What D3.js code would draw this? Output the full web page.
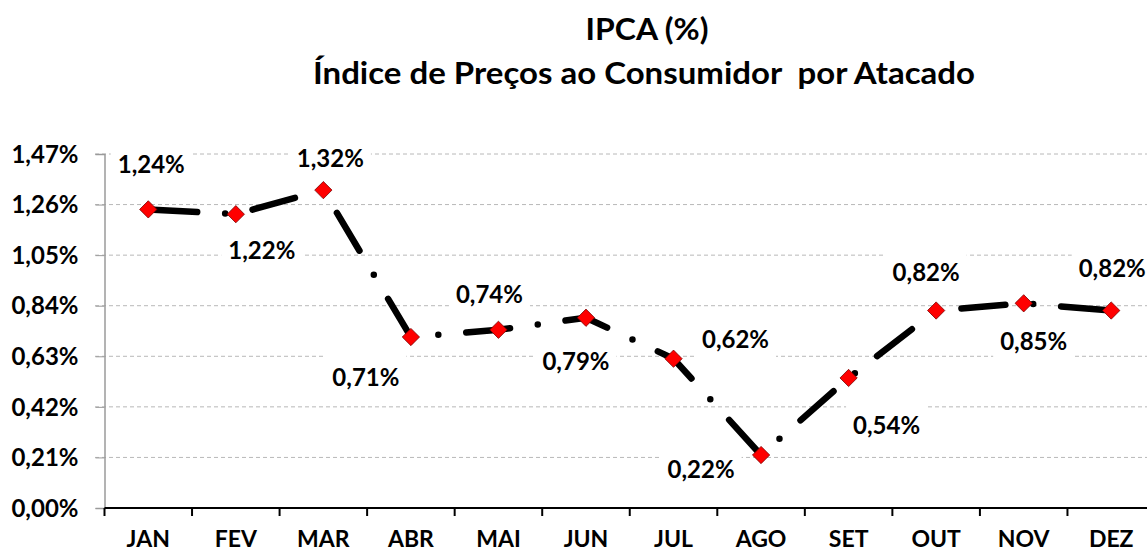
<!DOCTYPE html>
<html>
<head>
<meta charset="utf-8">
<script src="https://cdn.jsdelivr.net/npm/d3@7/dist/d3.min.js"></script>
<style>
  html, body { margin: 0; padding: 0; background: #fff; }
  svg { display: block; }
  text { font-family: Lato, "Open Sans", sans-serif; font-weight: bold; fill: #000; }
</style>
</head>
<body>
<svg id="chart" width="1147" height="551"></svg>
<script>
const months = ["JAN","FEV","MAR","ABR","MAI","JUN","JUL","AGO","SET","OUT","NOV","DEZ"];
const ipca = [1.24, 1.22, 1.32, 0.71, 0.74, 0.79, 0.62, 0.22, 0.54, 0.82, 0.85, 0.82];
const yTicks = [0, 0.21, 0.42, 0.63, 0.84, 1.05, 1.26, 1.47];
const titleLines = ["IPCA (%)", "Índice de Preços ao Consumidor  por Atacado"];

// label placement (layout, px offsets from point)
const labelOffsets = [
  [3,-46],[26,35],[7,-33],[-45,39],[-9,-36],[-10,43],
  [62,-20],[-60,13],[38,47],[-10,-39],[10,37],[1,-43]
];

const fmt = v => v.toFixed(2).replace(".", ",") + "%";

const svg = d3.select("#chart");
const plotLeft = 104.5, plotRight = 1155, plotTop = 154, plotBottom = 508;

const x = d3.scaleBand().domain(months).range([plotLeft, plotRight]).padding(0);
const y = d3.scaleLinear().domain([0, 1.47]).range([plotBottom, plotTop]);
const cx = m => x(m) + x.bandwidth() / 2;

// titles
svg.append("text").attr("x", 647).attr("y", 40).attr("text-anchor", "middle")
  .style("font-size", "31px").attr("textLength", 123).attr("lengthAdjust", "spacingAndGlyphs")
  .text(titleLines[0]);
svg.append("text").attr("x", 644).attr("y", 84).attr("text-anchor", "middle")
  .attr("xml:space", "preserve").style("white-space", "pre")
  .style("font-size", "31px").attr("textLength", 662).attr("lengthAdjust", "spacingAndGlyphs")
  .text(titleLines[1]);

// gridlines
svg.append("g").selectAll("line").data(yTicks.filter(d => d > 0)).join("line")
  .attr("x1", 95).attr("x2", 1147)
  .attr("y1", d => y(d)).attr("y2", d => y(d))
  .attr("stroke", "#b8b8b8").attr("stroke-width", 1).attr("stroke-dasharray", "4,3");

// y axis
const yAxis = d3.axisLeft(y).tickValues(yTicks).tickFormat(fmt).tickSize(9).tickPadding(17);
const gy = svg.append("g").attr("transform", `translate(${plotLeft},0)`).call(yAxis);
gy.select(".domain").attr("stroke", "#9a9a9a").attr("stroke-width", 1.5);
gy.selectAll(".tick line").attr("stroke", "#9a9a9a");
gy.selectAll(".tick text").style("font-size", "24px").style("font-family", "Lato, sans-serif")
  .style("font-weight", "bold").attr("fill", "#000").attr("dy", "0.34em");

// x axis
const gx = svg.append("g").attr("transform", `translate(0,${plotBottom})`)
  .call(d3.axisBottom(x).tickSize(0).tickPadding(0));
gx.select(".domain").remove();
gx.selectAll(".tick text").style("font-size", "23px").style("font-family", "Lato, sans-serif")
  .style("font-weight", "bold").attr("fill", "#000").attr("dy", null).attr("y", 39);
svg.append("line").attr("x1", plotLeft).attr("x2", 1147).attr("y1", plotBottom).attr("y2", plotBottom)
  .attr("stroke", "#000").attr("stroke-width", 2);
svg.append("g").selectAll("line").data(months).join("line")
  .attr("x1", d => x(d)).attr("x2", d => x(d))
  .attr("y1", plotBottom).attr("y2", plotBottom + 8)
  .attr("stroke", "#000").attr("stroke-width", 2);

// data labels with white boxes
const lblG = svg.append("g");
ipca.forEach((v, i) => {
  const px = cx(months[i]) + labelOffsets[i][0];
  const py = y(v) + labelOffsets[i][1];
  const g = lblG.append("g");
  const t = g.append("text").attr("x", px).attr("y", py).attr("text-anchor", "middle")
    .attr("dominant-baseline", "central").style("font-size", "24px").text(fmt(v));
  const bb = t.node().getBBox();
  g.insert("rect", "text").attr("x", bb.x - 7).attr("y", bb.y - 8)
    .attr("width", bb.width + 14).attr("height", bb.height + 14).attr("fill", "#fff");
});

// line
const line = d3.line().x((d, i) => cx(months[i])).y(d => y(d));
svg.append("path").datum(ipca).attr("d", line)
  .attr("fill", "none").attr("stroke", "#000").attr("stroke-width", 6.5)
  .attr("stroke-linecap", "round").attr("stroke-linejoin", "round")
  .attr("stroke-dasharray", "44,28,0,28").attr("stroke-dashoffset", -5);

// markers
svg.append("g").selectAll("path").data(ipca).join("path")
  .attr("d", d3.symbol().type(d3.symbolDiamond2).size(190))
  .attr("transform", (d, i) => `translate(${cx(months[i])},${y(d)})`)
  .attr("fill", "#ff0000").attr("stroke", "#7a0000").attr("stroke-width", 0.8);
</script>
</body>
</html>
